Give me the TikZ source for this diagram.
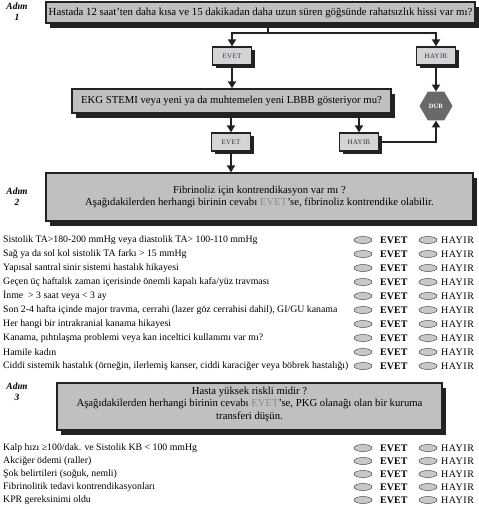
\documentclass[tikz,border=0pt]{standalone}
\usepackage{fontspec}
\setmainfont{Liberation Serif}
\usetikzlibrary{shapes.geometric,arrows.meta,shadows}
\definecolor{boxgray}{RGB}{192,192,192}
\definecolor{smallgray}{RGB}{212,212,212}
\definecolor{linedark}{RGB}{34,34,34}
\definecolor{evetgray}{RGB}{140,140,140}
\definecolor{ovalgray}{RGB}{200,200,200}
\definecolor{durgray}{RGB}{105,105,105}
\definecolor{labtext}{RGB}{50,45,70}
\begin{document}
\begin{tikzpicture}[x=1pt,y=-1pt,
 bigbox/.style={draw=linedark,line width=1.3pt,fill=boxgray,inner sep=0pt,align=center,
   drop shadow={shadow xshift=4pt,shadow yshift=-5pt,fill=linedark,opacity=1}},
 smallbox/.style={draw=linedark,line width=1.3pt,fill=smallgray,inner sep=0pt,minimum height=18pt,minimum width=39pt,font=\fontsize{7}{8}\selectfont\addfontfeature{LetterSpace=4},text=labtext,
   drop shadow={shadow xshift=3pt,shadow yshift=-3pt,fill=linedark,opacity=1}},
 conn/.style={draw=linedark,line width=1.8pt},
 arr/.style={conn,-{Triangle[width=8pt,length=7pt]}},
 stepl/.style={font=\bfseries\itshape\fontsize{9.5}{11}\selectfont,align=center,inner sep=0pt},
 oval/.style={ellipse,draw=black!70,line width=0.5pt,fill=ovalgray,minimum width=18pt,minimum height=7pt,inner sep=0pt},
 item/.style={anchor=west,inner sep=0pt,font=\fontsize{9.8}{10}\selectfont},
 yes/.style={anchor=west,inner sep=0pt,font=\bfseries\fontsize{10}{10}\selectfont},
 no/.style={anchor=west,inner sep=0pt,font=\fontsize{10}{10}\selectfont\addfontfeature{LetterSpace=5}},
 txt/.style={align=center,inner sep=0pt,font=\fontsize{10.7}{11.5}\selectfont},
]
\useasboundingbox (0,0) rectangle (479,509);

% step labels
\node[stepl] (s1) at (17,12) {Adım\\1};
\node[stepl] (s2) at (17,197) {Adım\\2};
\node[stepl] (s3) at (17,392) {Adım\\3};

% question boxes
\node[bigbox,minimum width=429pt,minimum height=21pt,font=\fontsize{10.8}{12}\selectfont] (q1) at (260.5,12.5)
  {Hastada 12 saat'ten daha kısa ve 15 dakikadan daha uzun süren göğsünde rahatsızlık hissi var mı?};
\node[smallbox] (evet1) at (232,56) {EVET};
\node[smallbox] (hayir1) at (436,56) {HAYIR};
\node[bigbox,minimum width=319pt,minimum height=24pt,font=\fontsize{10.7}{12}\selectfont] (q2) at (231.5,101)
  {EKG STEMI veya yeni ya da muhtemelen yeni LBBB gösteriyor mu?};
\node[regular polygon,regular polygon sides=6,minimum size=33pt,inner sep=0pt,fill=durgray,text=white,font=\bfseries\fontsize{6.5}{7}\selectfont] (dur) at (436,106) {DUR};
\node[smallbox] (evet2) at (231,142) {EVET};
\node[smallbox] (hayir2) at (359,142) {HAYIR};
\node[bigbox,minimum width=427pt,minimum height=48pt] (q3) at (259.5,197) {};
\node[txt] (q3t) at (259.5,197) {Fibrinoliz için kontrendikasyon var mı ?\\Aşağıdakilerden herhangi birinin cevabı {\color{evetgray}EVET}'se, fibrinoliz kontrendike olabilir.};
\node[bigbox,minimum width=385pt,minimum height=47pt] (q4) at (249.5,406.5) {};
\node[txt,font=\fontsize{10.7}{12.5}\selectfont] (q4t) at (249.5,404) {Hasta yüksek riskli midir ?\\Aşağıdakilerden herhangi birinin cevabı {\color{evetgray}EVET}'se, PKG olanağı olan bir kuruma\\transferi düşün.};

% connectors
\coordinate (j1) at (268,33);
\draw[conn] (q1.south -| j1) -- (j1);
\draw[arr] (j1) -| (evet1.north);
\draw[arr] (j1) -| (hayir1.north);
\draw[arr] (evet1.south) -- (evet1.south |- q2.north);
\draw[arr] (hayir1.south) -- (dur.north);
\draw[arr] (q2.south -| evet2) -- (evet2.north);
\draw[arr] (q2.south -| hayir2) -- (hayir2.north);
\draw[arr] (hayir2.east) -| (dur.south);
\draw[arr] (evet2.south) -- (evet2.south |- q3.north);

% checklist 1
\foreach \t [count=\i] in {
 {Sistolik TA>180-200 mmHg veya diastolik TA> 100-110 mmHg},
 {Sağ ya da sol kol sistolik TA farkı > 15 mmHg},
 {Yapısal santral sinir sistemi hastalık hikayesi},
 {Geçen üç haftalık zaman içerisinde önemli kapalı kafa/yüz travması},
 {İnme \ > 3 saat veya < 3 ay},
 {Son 2-4 hafta içinde major travma, cerrahi (lazer göz cerrahisi dahil), GI/GU kanama},
 {Her hangi bir intrakranial kanama hikayesi},
 {Kanama, pıhtılaşma problemi veya kan inceltici kullanımı var mı?},
 {Hamile kadın},
 {Ciddi sistemik hastalık (örneğin, ilerlemiş kanser, ciddi karaciğer veya böbrek hastalığı)}}
{
 \node[item] (a\i) at (3,{226+14*\i}) {\t};
 \node[oval] (ae\i) at (363,{226+14*\i}) {};
 \node[yes] (ay\i) at (380,{226+14*\i}) {EVET};
 \node[oval] (af\i) at (428,{226+14*\i}) {};
 \node[no] (an\i) at (441,{226+14*\i}) {HAYIR};
}

% checklist 2
\foreach \t [count=\i] in {
 {Kalp hızı ≥100/dak. ve Sistolik KB < 100 mmHg},
 {Akciğer ödemi (raller)},
 {Şok belirtileri (soğuk, nemli)},
 {Fibrinolitik tedavi kontrendikasyonları},
 {KPR gereksinimi oldu}}
{
 \node[item] (b\i) at (3,{435+13*\i}) {\t};
 \node[oval] (be\i) at (363,{435+13*\i}) {};
 \node[yes] (by\i) at (380,{435+13*\i}) {EVET};
 \node[oval] (bf\i) at (428,{435+13*\i}) {};
 \node[no] (bn\i) at (441,{435+13*\i}) {HAYIR};
}
\end{tikzpicture}
\end{document}
